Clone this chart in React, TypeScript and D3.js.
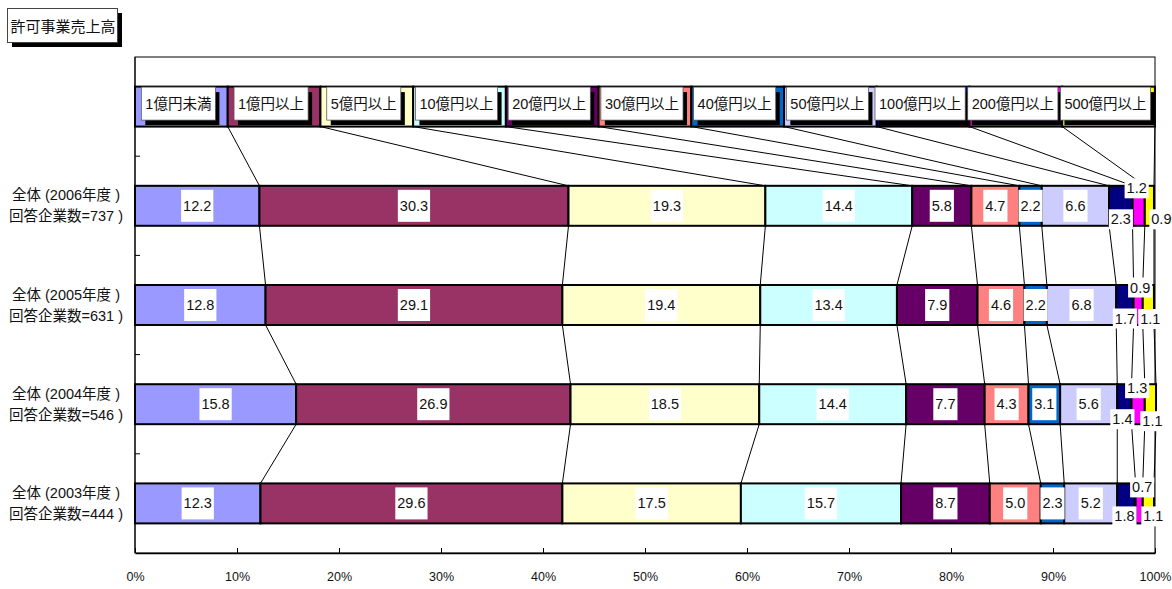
import React from 'react';
import { useRef, useEffect } from 'react';
import * as d3 from 'd3';

// series (売上高 classes) and their colours
const seriesNames = [
  "1億円未満", "1億円以上", "5億円以上", "10億円以上", "20億円以上", "30億円以上",
  "40億円以上", "50億円以上", "100億円以上", "200億円以上", "500億円以上",
];
const seriesColors = [
  "#9999FF", "#993366", "#FFFFCC", "#CCFFFF", "#660066", "#FF8080",
  "#0066CC", "#CCCCFF", "#000080", "#FF00FF", "#FFFF00",
];

// top row is the legend bar (equal shares)
const legendShares = [9.09, 9.09, 9.09, 9.09, 9.09, 9.09, 9.09, 9.09, 9.09, 9.09, 9.09];
const values2006 = [12.2, 30.3, 19.3, 14.4, 5.8, 4.7, 2.2, 6.6, 2.3, 1.2, 0.9];
const values2005 = [12.8, 29.1, 19.4, 13.4, 7.9, 4.6, 2.2, 6.8, 1.7, 0.9, 1.1];
const values2004 = [15.8, 26.9, 18.5, 14.4, 7.7, 4.3, 3.1, 5.6, 1.4, 1.3, 1.1];
const values2003 = [12.3, 29.6, 17.5, 15.7, 8.7, 5.0, 2.3, 5.2, 1.8, 0.7, 1.1];

const categoryLines = [
  ["", ""],
  ["全体 (2006年度 )", "回答企業数=737 )"],
  ["全体 (2005年度 )", "回答企業数=631 )"],
  ["全体 (2004年度 )", "回答企業数=546 )"],
  ["全体 (2003年度 )", "回答企業数=444 )"],
];

const xTicks = [0, 10, 20, 30, 40, 50, 60, 70, 80, 90, 100];
const titleText = "許可事業売上高";

const chartStyle = {
  margin: { top: 57, left: 135, bottom: 36, right: 17 },
  font: '"Liberation Sans", Arial, "Noto Sans CJK JP", sans-serif',
  // label offsets (dx, dy) for the last three thin segments of each data row
  smallLabelOffsets: [
    [[0, 13.5], [-2, -17.5], [12, 13.5]],
    [[0, 13.5], [2, -17.5], [2, 14]],
    [[-2, 15], [-1, -16], [2, 17]],
    [[-2, 13], [3, -16], [5, 13]],
  ],
};

const App: React.FC = () => {
  const svgRef = useRef<SVGSVGElement>(null);
  const width = 1172;
  const height = 589;

  useEffect(() => {
    if (!svgRef.current) return;
    const margin = chartStyle.margin;
    const font = chartStyle.font;
    const svg = d3.select(svgRef.current);
    svg.selectAll("*").remove();

    const rows = [legendShares, values2006, values2005, values2004, values2003];
    const table = rows.map(vals => {
      const o: Record<string, number> = {};
      seriesNames.forEach((n, i) => { o[n] = vals[i]; });
      return o;
    });
    const stacked = d3.stack<Record<string, number>>().keys(seriesNames)(table);

    const x = d3.scaleLinear().domain([0, 100]).range([margin.left, width - margin.right]);
    const y = d3.scaleBand<number>()
      .domain(d3.range(rows.length))
      .range([margin.top, height - margin.bottom])
      .paddingInner(0.597)
      .paddingOuter(0.2985);
    const bw = y.bandwidth();

    // title box
    const tg = svg.append("g");
    tg.append("rect").attr("x", 12).attr("y", 13).attr("width", 110).attr("height", 34).attr("fill", "#000");
    tg.append("rect").attr("x", 7.5).attr("y", 8.5).attr("width", 110).attr("height", 34)
      .attr("fill", "#fff").attr("stroke", "#444").attr("stroke-width", 1);
    tg.append("text").attr("x", 63).attr("y", 26).attr("text-anchor", "middle")
      .attr("dominant-baseline", "central").style("font-family", font).style("font-size", "15px")
      .attr("fill", "#111").text(titleText);

    // plot border
    svg.append("rect")
      .attr("x", margin.left).attr("y", margin.top)
      .attr("width", width - margin.left - margin.right)
      .attr("height", height - margin.top - margin.bottom)
      .attr("fill", "none").attr("stroke", "#000").attr("stroke-width", 1);

    // series lines
    const lines = svg.append("g").attr("stroke", "#000").attr("stroke-width", 1);
    stacked.forEach(layer => {
      for (let r = 0; r < rows.length - 1; r++) {
        lines.append("line")
          .attr("x1", x(layer[r][1])).attr("y1", y(r)! + bw)
          .attr("x2", x(layer[r + 1][1])).attr("y2", y(r + 1)!);
      }
    });

    // bars
    svg.append("g").selectAll("g").data(stacked).join("g")
      .attr("fill", (_, i) => seriesColors[i])
      .selectAll("rect").data(d => d.map((s, r) => ({ s, r }))).join("rect")
      .attr("x", d => x(d.s[0]))
      .attr("y", d => y(d.r)!)
      .attr("width", d => x(d.s[1]) - x(d.s[0]))
      .attr("height", bw)
      .attr("stroke", "#000")
      .attr("stroke-width", 2);

    // legend labels inside top bar
    const lg = svg.append("g");
    stacked.forEach((layer, i) => {
      const cx = (x(layer[0][0]) + x(layer[0][1])) / 2 - 3;
      const cy = y(0)! + bw / 2 - 3;
      const g = lg.append("g");
      const t = g.append("text").attr("x", cx).attr("y", cy)
        .attr("text-anchor", "middle").attr("dominant-baseline", "central")
        .style("font-family", font).style("font-size", "14.5px").attr("fill", "#111")
        .text(seriesNames[i]);
      const tw = (t.node() as SVGTextElement).getComputedTextLength();
      const w = tw + 8;
      const h = 33;
      g.insert("rect", "text").attr("x", cx - w / 2 + 4).attr("y", cy - h / 2 + 5)
        .attr("width", w).attr("height", h).attr("fill", "#000");
      g.insert("rect", "text").attr("x", cx - w / 2).attr("y", cy - h / 2)
        .attr("width", w).attr("height", h).attr("fill", "#fff")
        .attr("stroke", "#555").attr("stroke-width", 0.75);
    });

    // data labels
    const fmt = d3.format(".1f");
    const dl = svg.append("g");
    for (let r = 1; r < rows.length; r++) {
      stacked.forEach((layer, k) => {
        let cx = (x(layer[r][0]) + x(layer[r][1])) / 2;
        let cy = y(r)! + bw / 2;
        let h = 32;
        const pad = 2;
        if (k >= 8) {
          const off = chartStyle.smallLabelOffsets[r - 1][k - 8];
          cx += off[0];
          cy += off[1];
          h = 20;
        }
        const g = dl.append("g");
        const t = g.append("text").attr("x", cx).attr("y", cy)
          .attr("text-anchor", "middle").attr("dominant-baseline", "central")
          .style("font-family", font).style("font-size", "14.5px").attr("fill", "#111")
          .text(fmt(rows[r][k]));
        const tw = (t.node() as SVGTextElement).getComputedTextLength();
        g.insert("rect", "text").attr("x", cx - tw / 2 - pad).attr("y", cy - h / 2)
          .attr("width", tw + pad * 2).attr("height", h).attr("fill", "#fff");
      });
    }

    // category labels
    const cl = svg.append("g").style("font-family", font).style("font-size", "14.5px").attr("fill", "#111");
    categoryLines.forEach((ls, r) => {
      const cy = y(r)! + bw / 2;
      cl.append("text").attr("x", 66).attr("y", cy - 10.5).attr("text-anchor", "middle")
        .attr("dominant-baseline", "central").text(ls[0]);
      cl.append("text").attr("x", 66).attr("y", cy + 10.5).attr("text-anchor", "middle")
        .attr("dominant-baseline", "central").text(ls[1]);
    });

    // left axis with ticks between categories
    const la = svg.append("g").attr("stroke", "#000").attr("stroke-width", 1);
    la.append("line").attr("x1", margin.left).attr("x2", margin.left)
      .attr("y1", margin.top).attr("y2", height - margin.bottom);
    const gap = (y.step() - bw) / 2;
    for (let r = 1; r < rows.length; r++) {
      const yy = y(r)! - gap;
      la.append("line").attr("x1", margin.left).attr("x2", margin.left + 5)
        .attr("y1", yy).attr("y2", yy);
    }

    // bottom axis
    const xAxis = d3.axisBottom<number>(x)
      .tickValues(xTicks)
      .tickSize(-5)
      .tickSizeOuter(0)
      .tickPadding(19)
      .tickFormat(d => `${d}%`);
    svg.append("g")
      .attr("transform", `translate(0, ${height - margin.bottom})`)
      .call(xAxis)
      .call(g => g.select(".domain").attr("stroke", "#000").attr("stroke-width", 1.5))
      .call(g => g.selectAll(".tick line").attr("stroke", "#000"))
      .call(g => g.selectAll(".tick text")
        .style("font-family", font).style("font-size", "12.5px").attr("fill", "#111"));
  }, []);

  return (
    <svg
      ref={svgRef}
      width={width}
      height={height}
      style={{ position: "absolute", left: 0, top: 0, background: "#fff", display: "block" }}
    />
  );
};

export default App;
